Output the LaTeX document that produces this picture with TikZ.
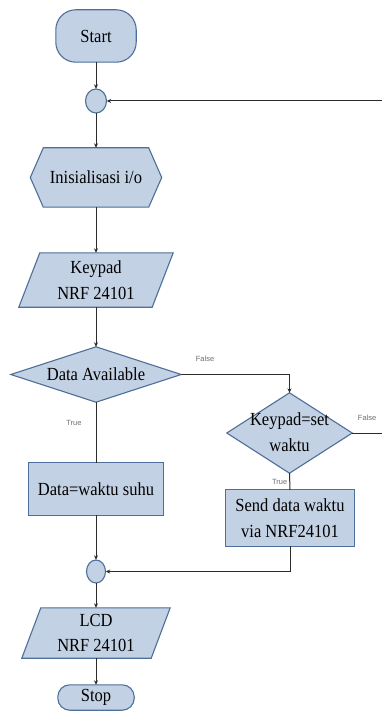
\documentclass[tikz,border=0pt]{standalone}
\usepackage{fontspec}
\setmainfont{Liberation Serif}
\newfontfamily\boxfont{Liberation Serif}
\newfontfamily\lblfont{Liberation Sans}
\usetikzlibrary{arrows.meta,calc}
\definecolor{shfill}{HTML}{C3D1E4}
\definecolor{shdraw}{HTML}{4D6F99}
\definecolor{lnclr}{HTML}{2B2B2B}
\definecolor{lblclr}{HTML}{6E6E6E}
\begin{document}
\begin{tikzpicture}[x=1pt,y=-1pt,
  box/.style={draw=none,inner sep=0pt,align=center,font=\boxfont\fontsize{16.5}{23}\selectfont},
  txt/.style={box,yscale=1.12,transform shape},
  outl/.style={draw=shdraw,fill=shfill,line width=1.1pt},
  conn/.style={draw=lnclr,line width=1pt},
  arr/.style={conn,-{Stealth[length=4.5pt,width=4pt]}},
  lbl/.style={font=\lblfont\fontsize{7.5}{8}\selectfont,text=lblclr,inner sep=0pt}]
\useasboundingbox (0,0) rectangle (382,711);
\fill[white] (0,0) rectangle (382,711);
% nodes (bounding boxes)
\node[box,minimum width=80,minimum height=52] (start) at (96,36) {};
\node[box,minimum width=21,minimum height=24] (c1) at (96,101) {};
\node[box,minimum width=131,minimum height=59] (init) at (96,177.5) {};
\node[box,minimum width=154,minimum height=54] (kp) at (96,280) {};
\node[box,minimum width=170,minimum height=55] (da) at (96,374.5) {};
\node[box,minimum width=125,minimum height=80] (ks) at (289.5,433) {};
\node[box,minimum width=134,minimum height=52] (dw) at (96,489) {};
\node[box,minimum width=128,minimum height=56] (sd) at (290,518) {};
\node[box,minimum width=19,minimum height=23] (c2) at (96,571.5) {};
\node[box,minimum width=148,minimum height=50] (lcd) at (96,633) {};
\node[box,minimum width=76,minimum height=25] (stop) at (96,697.5) {};
% outlines
\draw[outl,rounded corners=20pt] (start.north west) rectangle (start.south east);
\draw[outl] (c1) ellipse [x radius=10.5, y radius=12];
\draw[outl] (init.west) -- ([xshift=13]init.north west) -- ([xshift=-13]init.north east) -- (init.east) -- ([xshift=-13]init.south east) -- ([xshift=13]init.south west) -- cycle;
\draw[outl] ([xshift=21]kp.north west) -- (kp.north east) -- ([xshift=-21]kp.south east) -- (kp.south west) -- cycle;
\draw[outl] (da.north) -- (da.east) -- (da.south) -- (da.west) -- cycle;
\draw[outl] (ks.north) -- (ks.east) -- (ks.south) -- (ks.west) -- cycle;
\draw[outl] (dw.north west) rectangle (dw.south east);
\draw[outl] (sd.north west) rectangle (sd.south east);
\draw[outl] (c2) ellipse [x radius=9.5, y radius=11.5];
\draw[outl] ([xshift=19]lcd.north west) -- (lcd.north east) -- ([xshift=-19]lcd.south east) -- (lcd.south west) -- cycle;
\draw[outl,rounded corners=12pt] (stop.north west) rectangle (stop.south east);
% texts
\node[txt] (tstart) at (start) {Start};
\node[txt] (tinit) at (init) {Inisialisasi i/o};
\node[txt] (tkp) at (kp) {Keypad\\NRF 24101};
\node[txt] (tda) at (da) {Data Available};
\node[txt] (tks) at ([yshift=1]ks) {Keypad=set\\waktu};
\node[txt] (tdw) at (dw) {Data=waktu suhu};
\node[txt] (tsd) at (sd) {Send data waktu\\via NRF24101};
\node[txt] (tlcd) at (lcd) {LCD\\NRF 24101};
\node[txt] (tstop) at (stop) {Stop};
% connectors
\coordinate (loopin) at (382,101);
\coordinate (ksout) at (382,433);
\draw[arr] (start.south) -- (c1.north);
\draw[arr] (loopin) -- (c1.east);
\draw[arr] (c1.south) -- (init.north);
\draw[arr] (init.south) -- (kp.north);
\draw[arr] (kp.south) -- (da.north);
\draw[arr] (da.east) -| (ks.north) node[lbl,pos=0.11,above=12pt] {False};
\draw[conn] (ks.east) -- (ksout) node[lbl,midway,above=12pt] {False};
\draw[conn] (ks.south) -- (sd.north) node[lbl,midway,left=2pt] {True};
\draw[conn] (da.south) -- (dw.north) node[lbl,pos=0.35,left=14pt] {True};
\draw[arr] (dw.south) -- (c2.north);
\draw[arr] (sd.south) |- (c2.east);
\draw[arr] (c2.south) -- (lcd.north);
\draw[arr] (lcd.south) -- (stop.north);
\end{tikzpicture}
\end{document}
